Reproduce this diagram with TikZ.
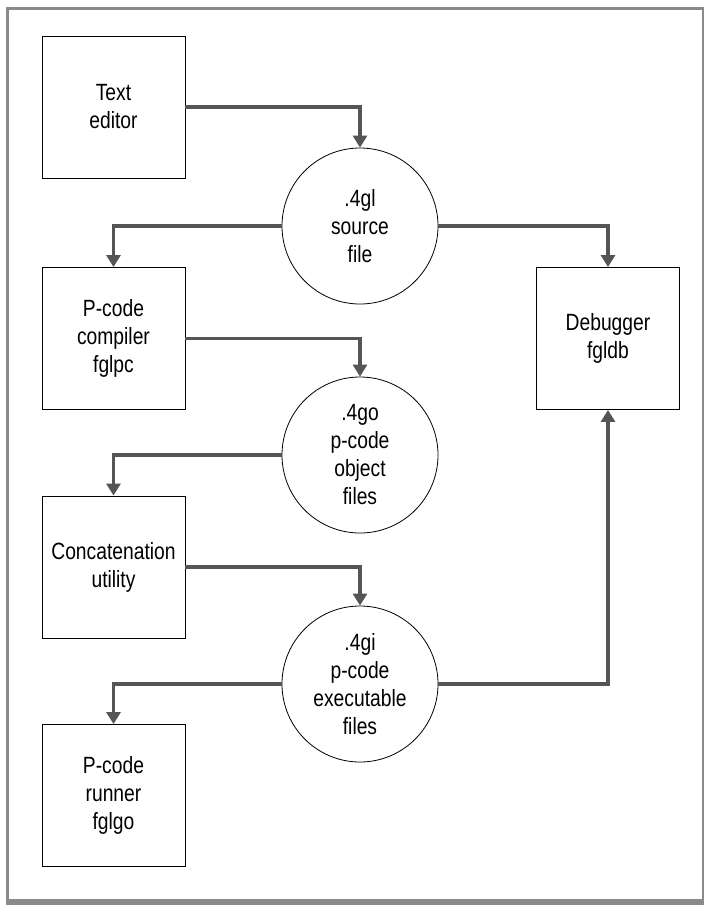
\documentclass[tikz,border=0pt]{standalone}
\usepackage{fontspec}
\setmainfont{Liberation Sans}[FakeStretch=0.82]
\usepackage{tikz}
\usetikzlibrary{arrows.meta,positioning}
\definecolor{framegray}{HTML}{8A8A8A}
\definecolor{linegray}{HTML}{555555}

\begin{document}
\begin{tikzpicture}[
  x=1pt, y=-1pt,
  tool/.style={draw, line width=0.9pt, minimum width=143pt, minimum height=142pt, align=center, font={\fontsize{23.5}{28}\selectfont}},
  file/.style={draw, line width=0.8pt, circle, minimum size=156pt, inner sep=0pt, align=center, font={\fontsize{23.5}{28}\selectfont}},
  flow/.style={draw=linegray, line width=3.2pt, -{Triangle[width=14pt,length=12pt]}},
  >=Stealth
]
\useasboundingbox (0,0) rectangle (704,905);
% frame
\fill[framegray] (6,7) rectangle (704,905);
\fill[white] (9,9.5) rectangle (702,899);

\node[tool] (editor)   at (113.5,107)   {Text\\editor};
\node[tool] (compiler) at (113.5,338.5) {P-code\\compiler\\fglpc};
\node[tool] (concat)   at (113.5,567)   {Concatenation\\utility};
\node[tool] (runner)   at (113.5,795.5) {P-code\\runner\\fglgo};
\node[tool] (debug)    at (608,338.5)   {Debugger\\fgldb};
\node[file] (src) at (360,226) {.4gl\\source\\file};
\node[file] (obj) at (360,455) {.4go\\p-code\\object\\files};
\node[file] (exe) at (360,684) {.4gi\\p-code\\executable\\files};

\draw[flow] (editor.east) -| (src.north);
\draw[flow] (src.west) -| (compiler.north);
\draw[flow] (src.east) -| (debug.north);
\draw[flow] (compiler.east) -| (obj.north);
\draw[flow] (obj.west) -| (concat.north);
\draw[flow] (concat.east) -| (exe.north);
\draw[flow] (exe.west) -| (runner.north);
\draw[flow] (exe.east) -| (debug.south);
\end{tikzpicture}
\end{document}
